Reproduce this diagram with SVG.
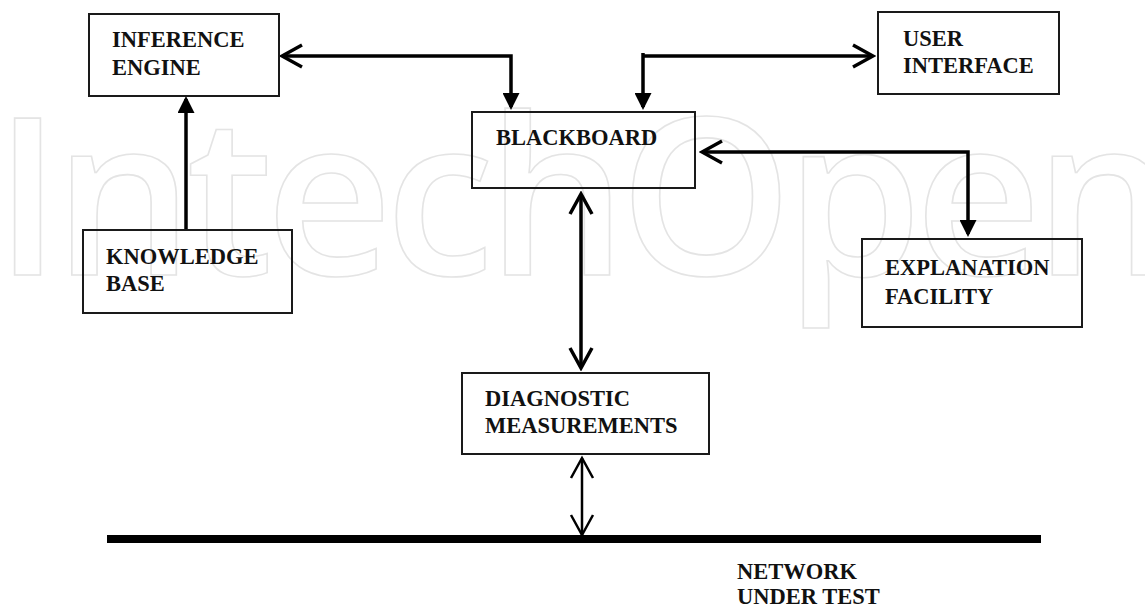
<svg xmlns="http://www.w3.org/2000/svg" width="1145" height="607" viewBox="0 0 1145 607">
  <style>
    .box { fill: none; stroke: #1a1a1a; stroke-width: 2; }
    .lbl { font-family: "Liberation Serif", "Times New Roman", serif; font-weight: bold; font-size: 22.5px; fill: #111; }
    .con { fill: none; stroke: #000; stroke-width: 3.5; }
    .thin { fill: none; stroke: #000; stroke-width: 2.5; }
    .wm { font-family: "Open Sans", "Noto Sans", sans-serif; font-weight: 600; font-size: 220px; fill: none; stroke: #e4e4e4; stroke-width: 1.6; }
  </style>
  <defs>
    <marker id="open" markerUnits="userSpaceOnUse" viewBox="0 0 26 28" markerWidth="26" markerHeight="28" refX="23" refY="14" orient="auto-start-reverse">
      <path d="M3,3 L23,14 L3,25" fill="none" stroke="#000" stroke-width="3.5" stroke-linejoin="miter"/>
    </marker>
    <marker id="openThin" markerUnits="userSpaceOnUse" viewBox="0 0 26 28" markerWidth="26" markerHeight="28" refX="23" refY="14" orient="auto-start-reverse">
      <path d="M3,3 L23,14 L3,25" fill="none" stroke="#000" stroke-width="2.5" stroke-linejoin="miter"/>
    </marker>
    <marker id="fill" markerUnits="userSpaceOnUse" viewBox="0 0 17 17" markerWidth="17" markerHeight="17" refX="14" refY="8.5" orient="auto-start-reverse">
      <path d="M0,0 L17,8.5 L0,17 z" fill="#000"/>
    </marker>
  </defs>
  <rect width="1145" height="607" fill="#fff"/>

  <text class="wm" x="-6" y="275" textLength="1180" lengthAdjust="spacing">IntechOpen</text>

  <g id="connectors">
    <path class="con" d="M282,56 H511 V107" marker-start="url(#open)" marker-end="url(#fill)"/>
    <path class="con" d="M643,107 V53 M643,56 H873" marker-end="url(#open)"/>
    <path class="con" d="M643,107 V100" marker-start="url(#fill)"/>
    <path class="con" d="M702,152 H968 V234" marker-start="url(#open)" marker-end="url(#fill)"/>
    <path class="con" d="M186,230 V99" marker-end="url(#fill)"/>
    <path class="con" d="M581,194 V368" marker-start="url(#open)" marker-end="url(#open)"/>
    <path class="thin" d="M582,458 V535" marker-start="url(#openThin)" marker-end="url(#openThin)"/>
  </g>

  <g id="inference-engine">
    <rect class="box" x="89" y="14" width="190" height="82"/>
    <text class="lbl" x="112" y="47">INFERENCE</text>
    <text class="lbl" x="112" y="75">ENGINE</text>
  </g>
  <g id="user-interface">
    <rect class="box" x="878" y="12" width="181" height="82"/>
    <text class="lbl" x="903" y="46">USER</text>
    <text class="lbl" x="903" y="73">INTERFACE</text>
  </g>
  <g id="blackboard">
    <rect class="box" x="472" y="112" width="223" height="76"/>
    <text class="lbl" x="496" y="145">BLACKBOARD</text>
  </g>
  <g id="knowledge-base">
    <rect class="box" x="83" y="230" width="209" height="83"/>
    <text class="lbl" x="106" y="264">KNOWLEDGE</text>
    <text class="lbl" x="106" y="291">BASE</text>
  </g>
  <g id="explanation-facility">
    <rect class="box" x="862" y="239" width="220" height="88"/>
    <text class="lbl" x="885" y="275">EXPLANATION</text>
    <text class="lbl" x="885" y="304">FACILITY</text>
  </g>
  <g id="diagnostic-measurements">
    <rect class="box" x="462" y="373" width="247" height="81"/>
    <text class="lbl" x="485" y="406">DIAGNOSTIC</text>
    <text class="lbl" x="485" y="433">MEASUREMENTS</text>
  </g>
  <g id="network-under-test">
    <rect x="107" y="535" width="934" height="8" fill="#000"/>
    <text class="lbl" x="737" y="579">NETWORK</text>
    <text class="lbl" x="737" y="604">UNDER TEST</text>
  </g>
</svg>
